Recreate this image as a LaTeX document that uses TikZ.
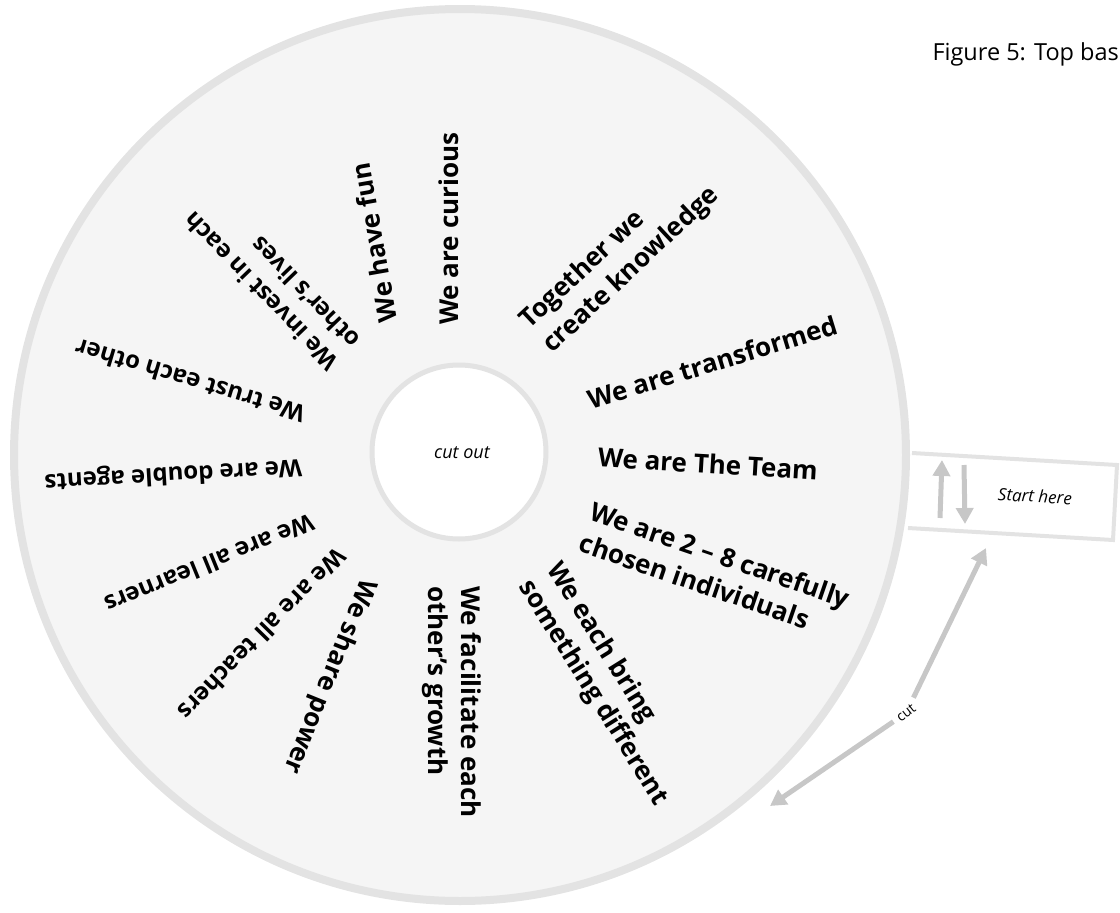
\documentclass[tikz,border=0pt]{standalone}
\usepackage{fontspec}
\setmainfont{Open Sans}
\usetikzlibrary{arrows.meta}

\begin{document}
\begin{tikzpicture}[x=1pt,y=-1pt,
    wedge/.style={font=\fontsize{26}{33}\selectfont\bfseries, anchor=west, inner sep=0pt, align=left},
    smallwedge/.style={wedge, font=\fontsize{24}{31}\selectfont\bfseries},
    rim/.style={draw=black!11, line width=8pt},
    hint/.style={draw=black!22, line width=5pt, -{Triangle[length=16pt,width=17pt]}}]
  \useasboundingbox (0,0) rectangle (1120,913);
  % the base disc and its hole
  \draw[rim, fill=black!4] (460,455) circle (446pt);
  \draw[draw=black!11, line width=5pt, fill=white] (459,452) circle (87pt);
  \node[font=\fontsize{18}{21}\selectfont\itshape] (hole) at (462,453) {cut out};
  \node[anchor=base west, font=\fontsize{23.5}{28}\selectfont] (title) at (929,60) {Figure 5: Top base};

  % the statements, read from the hole outwards
  \node[wedge, rotate=-3.4] (team) at (598,457) {We are The Team};
  \node[wedge, rotate=-19] (chosen) at (586,526) {We are 2 -- 8 carefully\\chosen individuals};
  \node[wedge, rotate=17] (transformed) at (588,400) {We are transformed};
  \node[wedge, rotate=43] (knowledge) at (536,337) {Together we\\create knowledge};
  \node[wedge, rotate=90] (curious) at (449,325) {We are curious};
  \node[wedge, rotate=100] (fun) at (388,322) {We have fun};
  \node[smallwedge, rotate=134] (invest) at (344,356) {We invest in each\\other's lives};
  \node[smallwedge, rotate=163.5] (trust) at (304,415) {We trust each other};
  \node[smallwedge, rotate=183.4] (agents) at (302,466) {We are double agents};
  \node[smallwedge, rotate=202.2] (learners) at (313,522) {We are all learners};
  \node[smallwedge, rotate=225.7] (teachers) at (342,553) {We are all teachers};
  \node[wedge, rotate=248] (power) at (368,580) {We share power};
  \node[wedge, rotate=270] (growth) at (452,586) {We facilitate each\\other's growth};
  \node[wedge, rotate=302] (different) at (538,574) {We each bring\\something different};

  % the tab
  \draw[draw=black!11, line width=4pt] (912,453) -- (1117,465) -- (1113,540) -- (908,528);
  \draw[hint] (940,518) -- (942,460);
  \draw[hint] (964,465) -- (965,524);
  \node[rotate=-3.4, font=\fontsize{17}{20}\selectfont\itshape] (start) at (1035,496) {Start here};

  % where to cut
  \node[rotate=38, font=\fontsize{14}{17}\selectfont, inner sep=5pt] (cut) at (906,713) {cut};
  \coordinate (tabcorner) at (986,548);
  \coordinate (rimpoint) at (770,806);
  \draw[hint] (cut) -- (tabcorner);
  \draw[hint] (cut) -- (rimpoint);
\end{tikzpicture}
\end{document}
